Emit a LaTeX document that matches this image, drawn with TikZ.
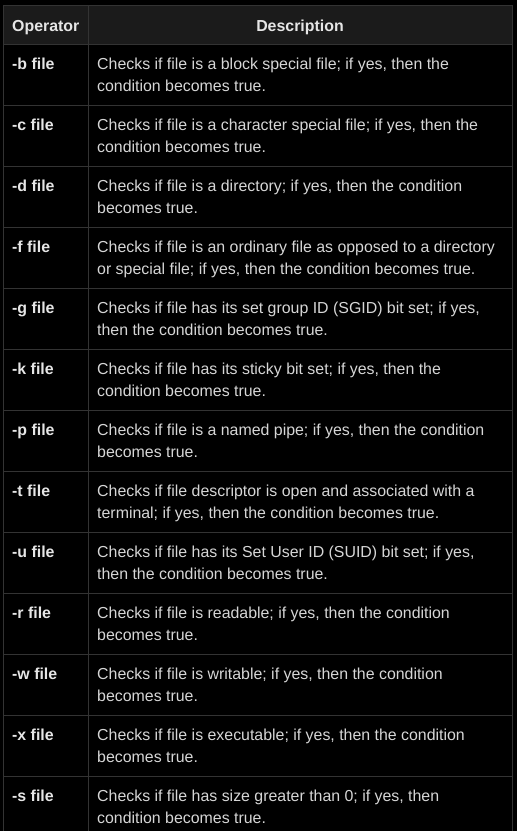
\documentclass[tikz,border=0pt]{standalone}
\usepackage{fontspec}
\setmainfont{Liberation Sans}
\definecolor{bg}{HTML}{000000}
\definecolor{hdr}{HTML}{1B1B1B}
\definecolor{rule}{HTML}{333333}
\definecolor{txt}{HTML}{D6D6D6}
\definecolor{htxt}{HTML}{E6E6E6}
\tikzset{
  celltxt/.style={anchor=base west, inner sep=0pt, text=txt, font=\fontsize{15.9}{18}\selectfont},
  optxt/.style={anchor=base west, inner sep=0pt, text=htxt, font=\fontsize{15.9}{18}\selectfont\bfseries},
  hdrtxt/.style={anchor=base, inner sep=0pt, text=htxt, font=\fontsize{15.9}{18}\selectfont\bfseries},
  gridline/.style={draw=rule, line width=0.9pt}
}
\begin{document}
\begin{tikzpicture}[x=1pt,y=-1pt]
\useasboundingbox[fill=bg] (0,0) rectangle (517,831);
\fill[hdr] (3,5) rectangle (512,44);
% header
\node[optxt] (hop) at (12,31) {Operator};
\node[hdrtxt] (hdesc) at (300,31) {Description};
% rows
\newcommand\trow[4]{%
  \node[optxt] (op#1) at (12,{44+61*#1+25}) {#2};
  \node[celltxt] (da#1) at (97,{44+61*#1+25}) {#3};
  \node[celltxt] (db#1) at (97,{44+61*#1+47.5}) {#4};
}
\trow{0}{-b file}{Checks if file is a block special file; if yes, then the}{condition becomes true.}
\trow{1}{-c file}{Checks if file is a character special file; if yes, then the}{condition becomes true.}
\trow{2}{-d file}{Checks if file is a directory; if yes, then the condition}{becomes true.}
\trow{3}{-f file}{Checks if file is an ordinary file as opposed to a directory}{or special file; if yes, then the condition becomes true.}
\trow{4}{-g file}{Checks if file has its set group ID (SGID) bit set; if yes,}{then the condition becomes true.}
\trow{5}{-k file}{Checks if file has its sticky bit set; if yes, then the}{condition becomes true.}
\trow{6}{-p file}{Checks if file is a named pipe; if yes, then the condition}{becomes true.}
\trow{7}{-t file}{Checks if file descriptor is open and associated with a}{terminal; if yes, then the condition becomes true.}
\trow{8}{-u file}{Checks if file has its Set User ID (SUID) bit set; if yes,}{then the condition becomes true.}
\trow{9}{-r file}{Checks if file is readable; if yes, then the condition}{becomes true.}
\trow{10}{-w file}{Checks if file is writable; if yes, then the condition}{becomes true.}
\trow{11}{-x file}{Checks if file is executable; if yes, then the condition}{becomes true.}
\trow{12}{-s file}{Checks if file has size greater than 0; if yes, then}{condition becomes true.}
% grid
\foreach \i in {0,...,12} \draw[gridline] (3,{44+61*\i}) -- (512,{44+61*\i});
\draw[gridline] (3,5) -- (512,5);
\foreach \xx in {3,88,512} \draw[gridline] (\xx,5) -- (\xx,831);
\end{tikzpicture}
\end{document}
